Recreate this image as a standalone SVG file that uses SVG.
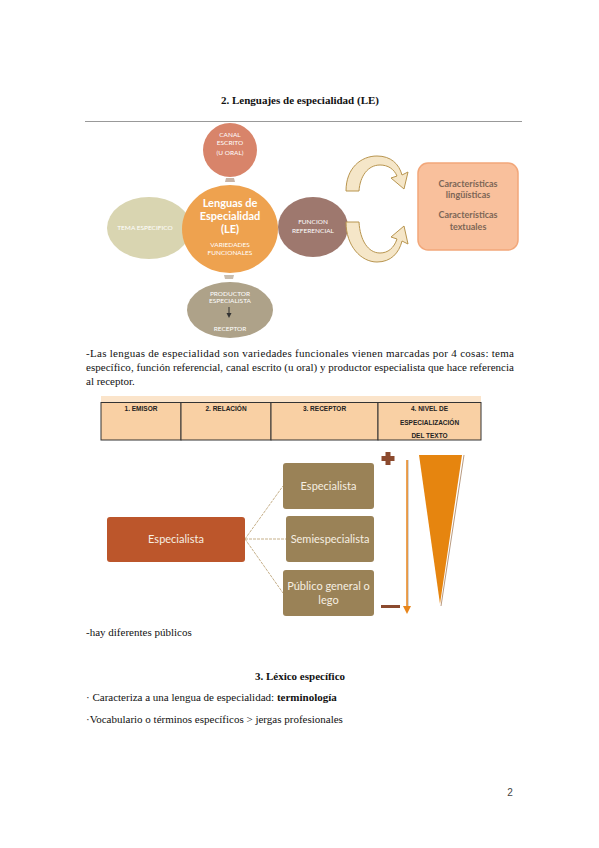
<svg xmlns="http://www.w3.org/2000/svg" width="599" height="848" viewBox="0 0 599 848">
<style>
.body{font-family:"Liberation Serif",serif;font-size:11px;fill:#111}
.bold{font-weight:bold}
.ct{font-family:Lato,"Open Sans",sans-serif;fill:#fff;text-anchor:middle}
.tbl{font-family:"Liberation Sans",Arial,sans-serif;font-size:6.5px;font-weight:bold;fill:#222;text-anchor:middle}
.tree{font-family:Lato,"Open Sans",sans-serif;font-size:11px;fill:#f6efe2;text-anchor:middle}
.cell{fill:#f9d0a4;stroke:#333;stroke-width:1}
.arr{fill:#f5e6c8;stroke:#b8954f;stroke-width:1}
.link{stroke:#c6b08a;stroke-width:1;fill:none;stroke-dasharray:3,1}
</style>
<rect width="599" height="848" fill="#fff"/>
<text class="body bold" x="300" y="104" text-anchor="middle" font-size="12">2. Lenguajes de especialidad (LE)</text>
<line x1="85" y1="121.5" x2="522" y2="121.5" stroke="#999" stroke-width="1"/>

<g id="tema">
<ellipse cx="149" cy="228" rx="42" ry="31" fill="#d9d5b1"/>
<text class="ct" x="145" y="230" font-size="6.5">TEMA ESPECIFICO</text>
</g>
<g id="funcion">
<ellipse cx="313" cy="227" rx="35" ry="30" fill="#9e786e"/>
<text class="ct" x="313" y="224" font-size="6.5">FUNCION</text>
<text class="ct" x="313" y="233" font-size="6.5">REFERENCIAL</text>
</g>
<g id="canal">
<circle cx="230" cy="150" r="27" fill="#d8846a"/>
<text class="ct" x="230" y="137" font-size="6.5">CANAL</text>
<text class="ct" x="230" y="145" font-size="6.5">ESCRITO</text>
<text class="ct" x="230" y="155" font-size="6.5">(U ORAL)</text>
</g>
<g id="connectors">
<path d="M226,178 L234,178 L235,182 L225,182 Z" fill="#c9b3a5"/>
<path d="M224,275 L234,275 L233,279 L225,279 Z" fill="#c9beb0"/>
<path class="arr" d="M346,191 C346,168 361,156 377,156 C391,156 399,164 402,175 L408,172 L404,189 L391,178 L397,176 C394,169 388,165 380,165 C368,165 360,176 359,191 Z"/>
<path class="arr" d="M346,222 C346,246 361,262 377,262 C391,262 399,253 402,241 L408,244 L404,226 L391,237 L397,239 C394,248 388,253 380,253 C368,253 360,240 359,222 Z"/>
<path class="link" d="M245,539 L283,486"/>
<path class="link" d="M245,539 L286,539"/>
<path class="link" d="M245,539 L283,593"/>
</g>
<g id="main">
<ellipse cx="230" cy="229" rx="48" ry="44" fill="#eea24f"/>
<text class="ct" x="230" y="207" font-size="11" font-weight="bold">Lenguas de</text>
<text class="ct" x="230" y="220" font-size="11" font-weight="bold">Especialidad</text>
<text class="ct" x="230" y="233" font-size="11" font-weight="bold">(LE)</text>
<text class="ct" x="230" y="247" font-size="6.5">VARIEDADES</text>
<text class="ct" x="230" y="255" font-size="6.5">FUNCIONALES</text>
</g>
<g id="productor">
<ellipse cx="230" cy="310" rx="43" ry="28" fill="#aea289"/>
<text class="ct" x="230" y="296" font-size="6.5">PRODUCTOR</text>
<text class="ct" x="230" y="303" font-size="6.5">ESPECIALISTA</text>
<line x1="229" y1="307" x2="229" y2="315" stroke="#333" stroke-width="1"/>
<path d="M226.5,313 L229,318 L231.5,313 Z" fill="#333"/>
<text class="ct" x="230" y="331" font-size="6.5">RECEPTOR</text>
</g>
<g id="caracteristicas">
<rect x="418" y="163" width="100" height="87" rx="10" fill="#f9c09c" stroke="#f2a77a" stroke-width="1.5"/>
<text x="468" y="187" text-anchor="middle" font-family="Lato,'Open Sans',sans-serif" font-size="9" font-weight="bold" fill="#7d6656">Características</text>
<text x="468" y="198" text-anchor="middle" font-family="Lato,'Open Sans',sans-serif" font-size="9" font-weight="bold" fill="#7d6656">lingüísticas</text>
<text x="468" y="218" text-anchor="middle" font-family="Lato,'Open Sans',sans-serif" font-size="9" font-weight="bold" fill="#7d6656">Características</text>
<text x="468" y="230" text-anchor="middle" font-family="Lato,'Open Sans',sans-serif" font-size="9" font-weight="bold" fill="#7d6656">textuales</text>
</g>

<text class="body" x="86" y="357" textLength="428" lengthAdjust="spacing">-Las lenguas de especialidad son variedades funcionales vienen marcadas por 4 cosas: tema</text>
<text class="body" x="86" y="371" textLength="428" lengthAdjust="spacing">específico, función referencial, canal escrito (u oral) y productor especialista que hace referencia</text>
<text class="body" x="86" y="385">al receptor.</text>

<g id="tabla">
<rect x="101" y="396" width="380" height="6" fill="#fbe4ca"/>
<rect class="cell" x="101" y="402.5" width="80" height="37.5"/>
<rect class="cell" x="181" y="402.5" width="90" height="37.5"/>
<rect class="cell" x="271" y="402.5" width="107" height="37.5"/>
<rect class="cell" x="378" y="402.5" width="103" height="37.5"/>
<text class="tbl" x="141" y="411">1. EMISOR</text>
<text class="tbl" x="226" y="411">2. RELACIÓN</text>
<text class="tbl" x="324.5" y="411">3. RECEPTOR</text>
<text class="tbl" x="429.5" y="411">4. NIVEL DE</text>
<text class="tbl" x="429.5" y="425">ESPECIALIZACIÓN</text>
<text class="tbl" x="429.5" y="438">DEL TEXTO</text>
</g>

<g id="especialista-main">
<rect x="107" y="517" width="138" height="45" rx="3" fill="#bc562b"/>
<text class="tree" x="176" y="543" fill="#fff">Especialista</text>
</g>
<g id="especialista">
<rect x="283" y="463" width="91" height="46" rx="3" fill="#9a8257"/>
<text class="tree" x="328.5" y="490">Especialista</text>
</g>
<g id="semiespecialista">
<rect x="286" y="516" width="88" height="46" rx="3" fill="#9a8257"/>
<text class="tree" x="330" y="543">Semiespecialista</text>
</g>
<g id="publico">
<rect x="283" y="570" width="91" height="46" rx="3" fill="#9a8257"/>
<text class="tree" x="328.5" y="590">Público general o</text>
<text class="tree" x="328.5" y="604">lego</text>
</g>
<g id="escala">
<path d="M385.5,452 h5 v4 h4 v5 h-4 v4 h-5 v-4 h-4 v-5 h4 Z" fill="#8b4a2e"/>
<rect x="381" y="605" width="19" height="3" fill="#8b4a2e"/>
<line x1="408" y1="460" x2="408" y2="610" stroke="#b0b0b0" stroke-width="1"/>
<line x1="407" y1="460" x2="407" y2="609" stroke="#e8851a" stroke-width="1.5"/>
<path d="M403,606 L407,614 L411,606 Z" fill="#e8851a"/>
<path d="M464,455 L441,606" stroke="#b89a80" stroke-width="1"/>
<path d="M419,455 L462,455 L440,604 Z" fill="#e6850f"/>
</g>

<text class="body" x="86" y="636">-hay diferentes públicos</text>
<text class="body bold" x="300" y="680" text-anchor="middle">3. Léxico específico</text>
<text class="body" x="86" y="701">· Caracteriza a una lengua de especialidad: <tspan class="bold">terminología</tspan></text>
<text class="body" x="86" y="723">·Vocabulario o términos específicos &gt; jergas profesionales</text>
<text x="510" y="796" text-anchor="middle" font-family="'Liberation Sans',Arial,sans-serif" font-size="10" fill="#444">2</text>
</svg>
